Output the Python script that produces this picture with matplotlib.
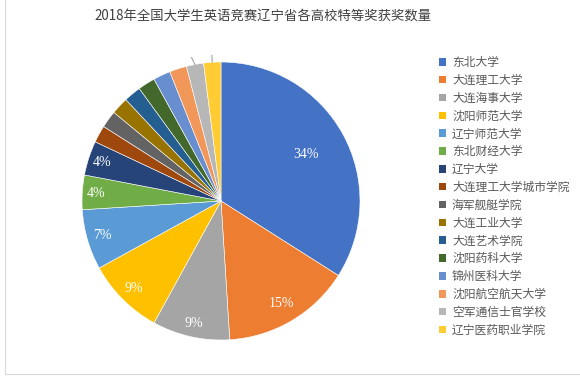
import matplotlib
matplotlib.use("Agg")
import matplotlib.pyplot as plt
import matplotlib.patches as mpatches
import numpy as np

title = "2018年全国大学生英语竞赛辽宁省各高校特等奖获奖数量"
schools = ["东北大学", "大连理工大学", "大连海事大学", "沈阳师范大学", "辽宁师范大学",
           "东北财经大学", "辽宁大学", "大连理工大学城市学院", "海军舰艇学院", "大连工业大学",
           "大连艺术学院", "沈阳药科大学", "锦州医科大学", "沈阳航空航天大学",
           "空军通信士官学校", "辽宁医药职业学院"]
shares = [34, 15, 9, 9, 7, 4, 4, 2, 2, 2, 2, 2, 2, 2, 2, 2]
colors = ["#4472C4", "#ED7D31", "#A5A5A5", "#FFC000", "#5B9BD5", "#70AD47", "#264478",
          "#9E480E", "#636363", "#997300", "#255E91", "#43682B", "#698ED0", "#F1975A",
          "#B7B7B7", "#FFCD33"]
label_r = [0.70, 0.86, 0.90, 0.89, 0.89, 0.90, 0.90]

plt.rcParams['font.family'] = ['Noto Sans CJK SC', 'DejaVu Sans']

W, H = 580, 376
fig = plt.figure(figsize=(W / 100, H / 100), dpi=100)
fig.patch.set_facecolor("white")

cx, cy, R = 221, 201, 139
ax = fig.add_axes([(cx - R) / W, 1 - (cy + R) / H, 2 * R / W, 2 * R / H])
wedges, _ = ax.pie(shares, colors=colors, startangle=90, counterclock=False,
                   radius=1, wedgeprops=dict(edgecolor="white", linewidth=0.4))
ax.set_xlim(-1, 1)
ax.set_ylim(-1, 1)
ax.set_aspect("equal")
ax.axis("off")

total = sum(shares)
for i, w in enumerate(wedges):
    mid = np.deg2rad((w.theta1 + w.theta2) / 2)
    if i < len(label_r):
        r = label_r[i]
        ax.text(r * np.cos(mid), r * np.sin(mid), f"{round(100 * shares[i] / total)}%",
                ha="center", va="center", color="white", fontsize=10,
                family="Liberation Serif")
# tiny leader-line remnants of hidden labels
for i in (14, 15):
    w = wedges[i]
    mid = np.deg2rad((w.theta1 + w.theta2) / 2)
    ax.plot([1.0 * np.cos(mid), 1.05 * np.cos(mid) - (0.015 if i == 14 else 0)],
            [1.0 * np.sin(mid), 1.05 * np.sin(mid)], color="#A6A6A6", lw=0.8,
            clip_on=False)

fig.text(263 / W, 1 - 17 / H, title, ha="center", va="center", fontsize=9.6, color="#404040")

handles = [mpatches.Patch(facecolor=c, edgecolor="none") for c in colors]
leg = fig.legend(handles, schools, loc="upper left", bbox_to_anchor=(439 / W, 1 - 56 / H),
                 frameon=False, fontsize=8.5, handlelength=0.6, handleheight=0.6,
                 handletextpad=0.5, labelspacing=0.41, borderaxespad=0, borderpad=0)
for t in leg.get_texts():
    t.set_color("#595959")

# chart border (left and bottom visible)
fig.add_artist(plt.Line2D([5 / W, 5 / W], [2 / H, 1], color="#D9D9D9", lw=0.8))
fig.add_artist(plt.Line2D([5 / W, 1], [2 / H, 2 / H], color="#D9D9D9", lw=0.8))

fig.savefig("out.png", dpi=100)
